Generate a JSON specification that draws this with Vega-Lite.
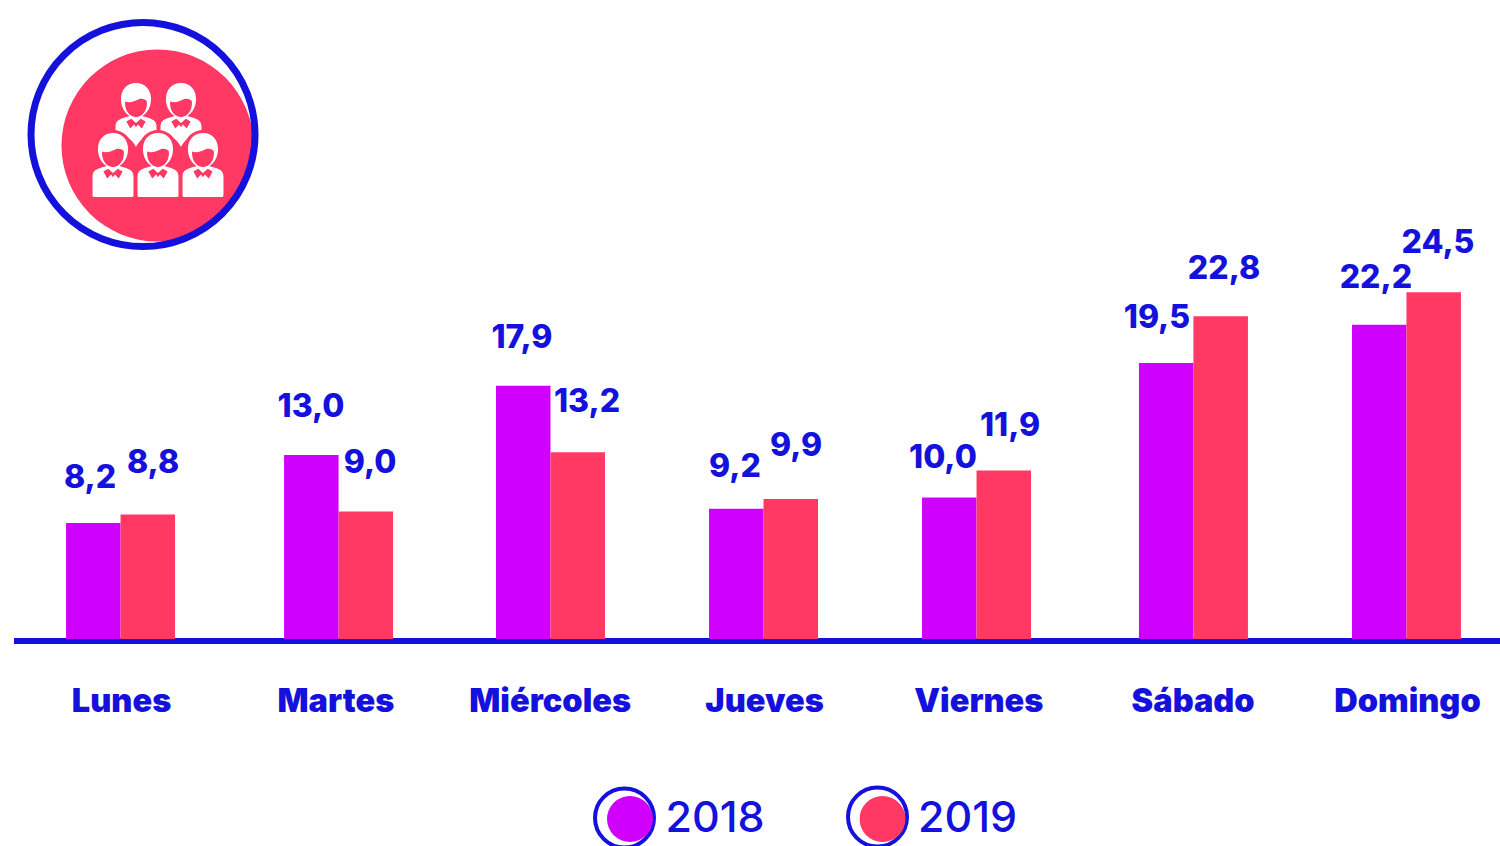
{
"$schema":"https://vega.github.io/schema/vega-lite/v6.json",
"width":1500,"height":639,"autosize":{"type":"none"},
"padding":{"left":0,"top":0,"right":0,"bottom":207},
"background":"white",
"config":{"view":{"stroke":null}},
"datasets":{
"bars":[
{"day":"Lunes","year":"2018","value":8.2,"label":"8,2"},{"day":"Lunes","year":"2019","value":8.8,"label":"8,8"},
{"day":"Martes","year":"2018","value":13.0,"label":"13,0"},{"day":"Martes","year":"2019","value":9.0,"label":"9,0"},
{"day":"Miércoles","year":"2018","value":17.9,"label":"17,9"},{"day":"Miércoles","year":"2019","value":13.2,"label":"13,2"},
{"day":"Jueves","year":"2018","value":9.2,"label":"9,2"},{"day":"Jueves","year":"2019","value":9.9,"label":"9,9"},
{"day":"Viernes","year":"2018","value":10.0,"label":"10,0"},{"day":"Viernes","year":"2019","value":11.9,"label":"11,9"},
{"day":"Sábado","year":"2018","value":19.5,"label":"19,5"},{"day":"Sábado","year":"2019","value":22.8,"label":"22,8"},
{"day":"Domingo","year":"2018","value":22.2,"label":"22,2"},{"day":"Domingo","year":"2019","value":24.5,"label":"24,5"}],
"decor":[
{"item":"base","x":14,"x2":1500,"y":641},
{"item":"disc","x":157.5,"y":145.5},
{"item":"ring","x":143,"y":134.5},
{"item":"ringS","x":624.5,"y":818},
{"item":"ringS","x":877.5,"y":817},
{"item":"upper","x":136,"y":115},
{"item":"upper","x":181,"y":115},
{"item":"lower","x":113,"y":165},
{"item":"lower","x":158,"y":165},
{"item":"lower","x":203,"y":165},
{"item":"halo","x":113,"y":149},
{"item":"halo","x":158,"y":149},
{"item":"halo","x":203,"y":149}]
},
"resolve":{"scale":{"x":"independent","y":"independent","color":"independent"},"axis":{"x":"independent","y":"independent"}},
"layer":[
{"data":{"name":"decor"},"transform":[{"filter":"datum.item=='base'"}],
 "mark":{"type":"rule","color":"#1411dd","strokeWidth":6},
 "encoding":{"x":{"field":"x","type":"quantitative","axis":null,"scale":{"domain":[0,1500],"range":[0,1500],"nice":false,"zero":false}},"x2":{"field":"x2"},
 "y":{"field":"y","type":"quantitative","axis":null,"scale":{"domain":[0,846],"range":[0,846],"nice":false,"zero":false}}}},
{"data":{"name":"bars"},
 "encoding":{"x":{"field":"day","type":"nominal","sort":null,"title":null,
   "scale":{"type":"band","paddingInner":0.491,"paddingOuter":0.245,"align":0.6286,"range":[0,1500]},
   "axis":{"domain":false,"ticks":false,"labelAngle":0,"labelFont":"Inter","labelFontWeight":900,"labelFontSize":32.5,"labelColor":"#1411dd","labelBaseline":"middle","labelPadding":62,"labelOffset":1,"grid":false}},
  "y":{"field":"value","type":"quantitative","axis":null,"stack":null,"scale":{"domain":[0,45.15],"nice":false}}},
 "layer":[
 {"mark":{"type":"bar","size":54.5,"xOffset":{"expr":"(datum.year=='2018'?-27.25:27.25)+({'Martes':3.7,'Miércoles':1.3,'Viernes':-1.3,'Sábado':1.3}[datum.day]||0)"}},
  "encoding":{"color":{"field":"year","type":"nominal","scale":{"domain":["2018","2019"],"range":["#d000ff","#ff3864"]},
   "legend":{"orient":"none","legendX":607,"legendY":796,"direction":"horizontal","columns":2,"title":null,"symbolType":"circle","symbolSize":2116,"symbolStrokeWidth":0,"labelFont":"Inter","labelFontSize":43,"labelFontWeight":500,"labelColor":"#1411dd","labelOffset":12.5,"columnPadding":94.5,"padding":0,"rowPadding":0,"clipHeight":46}}}},
 {"mark":{"type":"text","font":"Inter","fontWeight":800,"fontSize":32,"color":"#1411dd","baseline":"middle",
   "dx":{"expr":"{'Lunes2018':-3.25,'Martes2018':3.4,'Miércoles2018':0,'Jueves2018':-1.25,'Viernes2018':-7.6,'Sábado2018':-7.9,'Domingo2018':-3.25,'Lunes2019':5.25,'Martes2019':7.9,'Miércoles2019':10.6,'Jueves2019':5.25,'Viernes2019':4.9,'Sábado2019':4.6,'Domingo2019':4.25}[datum.day+datum.year]"},
   "dy":{"expr":"{'Lunes2018':-44.5,'Martes2018':-48.5,'Miércoles2018':-47.2,'Jueves2018':-41.3,'Viernes2018':-39,'Sábado2018':-45.5,'Domingo2018':-46.4,'Lunes2019':-51,'Martes2019':-48.2,'Miércoles2019':-49.7,'Jueves2019':-52.4,'Viernes2019':-44.1,'Sábado2019':-46.9,'Domingo2019':-48.8}[datum.day+datum.year]"}},
  "encoding":{"xOffset":{"field":"year","type":"nominal","sort":null,"scale":{"type":"band","paddingInner":0,"paddingOuter":0}},"text":{"field":"label","type":"nominal"}}}
 ]},
{"data":{"name":"decor"},"transform":[{"filter":"indexof(['disc','ring','ringS','upper','halo','lower'],datum.item)>=0"}],
 "encoding":{"x":{"field":"x","type":"quantitative","axis":null,"scale":{"domain":[0,1500],"range":[0,1500],"nice":false,"zero":false}},
 "y":{"field":"y","type":"quantitative","axis":null,"scale":{"domain":[0,846],"range":[0,846],"nice":false,"zero":false}}},
 "layer":[
 {"transform":[{"filter":"datum.item=='disc'"}],"mark":{"type":"point","shape":"circle","filled":true,"opacity":1,"color":"#ff3864","size":36864}},
 {"transform":[{"filter":"datum.item=='ring'"}],"mark":{"type":"point","shape":"circle","filled":false,"opacity":1,"color":"#1411dd","size":50176,"strokeWidth":7}},
 {"transform":[{"filter":"datum.item=='ringS'"}],"mark":{"type":"point","shape":"circle","filled":false,"opacity":1,"color":"#1411dd","size":3481,"strokeWidth":4}},
 {"transform":[{"filter":"datum.item=='upper'"}],"mark":{"type":"point","filled":true,"opacity":1,"color":"white","size":4096,"strokeWidth":0,"shape":"M0 -1C.3 -1 .47 -.78 .47 -.5C.47 -.25 .35 -.05 .2 .03C.4 .1 .64 .12 .64 .35L.64 .55C.3 .6 .1 .8 0 1C-.1 .8 -.3 .6 -.64 .55L-.64 .35C-.64 .12 -.4 .1 -.2 .03C-.35 -.05 -.47 -.25 -.47 -.5C-.47 -.78 -.3 -1 0 -1Z"}},
 {"transform":[{"filter":"datum.item=='upper'"}],"mark":{"type":"point","filled":true,"opacity":1,"color":"#ff3864","size":4096,"strokeWidth":0,"shape":"M-.34 -.42C-.2 -.36 -.05 -.42 .1 -.5C.2 -.52 .3 -.5 .34 -.42C.36 -.2 .25 .05 0 .07C-.25 .05 -.36 -.2 -.34 -.42ZM-.3 .2L-.15 .12L0 .25L.15 .12L.3 .2L.18 .42L.06 .3L0 .38L-.06 .3L-.18 .42Z"}},
 {"transform":[{"filter":"datum.item=='halo'"}],"mark":{"type":"point","shape":"circle","filled":true,"opacity":1,"color":"#ff3864","size":1444,"strokeWidth":0}},
 {"transform":[{"filter":"datum.item=='lower'"}],"mark":{"type":"point","filled":true,"opacity":1,"color":"white","size":4096,"strokeWidth":0,"shape":"M0 -1C.3 -1 .47 -.78 .47 -.5C.47 -.25 .35 -.05 .2 .03C.4 .1 .64 .12 .64 .35L.64 .95Q.64 1 .59 1L-.59 1Q-.64 1 -.64 .95L-.64 .35C-.64 .12 -.4 .1 -.2 .03C-.35 -.05 -.47 -.25 -.47 -.5C-.47 -.78 -.3 -1 0 -1Z"}},
 {"transform":[{"filter":"datum.item=='lower'"}],"mark":{"type":"point","filled":true,"opacity":1,"color":"#ff3864","size":4096,"strokeWidth":0,"shape":"M-.34 -.42C-.2 -.36 -.05 -.42 .1 -.5C.2 -.52 .3 -.5 .34 -.42C.36 -.2 .25 .05 0 .07C-.25 .05 -.36 -.2 -.34 -.42ZM-.3 .2L-.15 .12L0 .25L.15 .12L.3 .2L.18 .42L.06 .3L0 .38L-.06 .3L-.18 .42Z"}}
 ]}
]}
